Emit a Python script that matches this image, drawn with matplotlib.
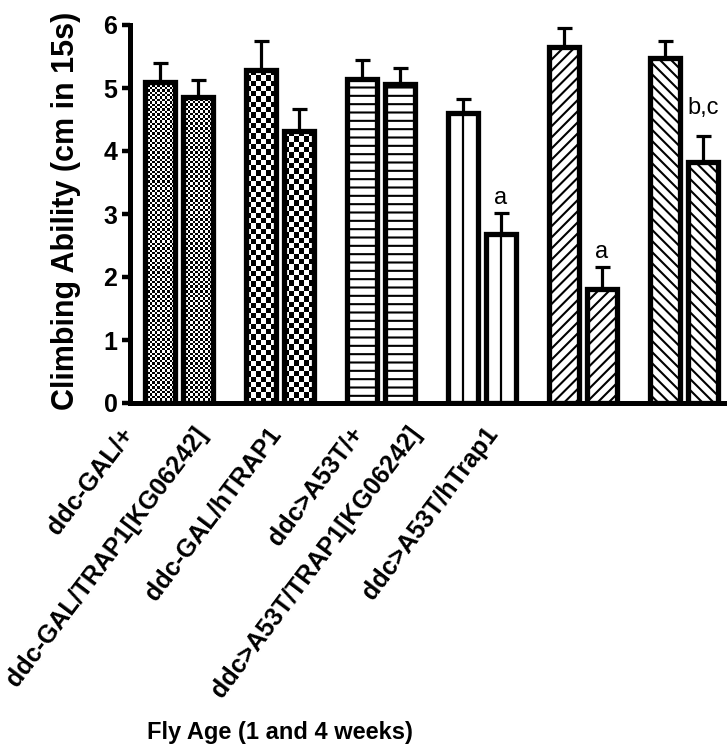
import matplotlib
matplotlib.use("Agg")
import matplotlib.pyplot as plt
import numpy as np

# ---------------- data ----------------
genotypes = ["ddc-GAL/+", "ddc-GAL/TRAP1[KG06242]", "ddc-GAL/hTRAP1",
             "ddc>A53T/+", "ddc>A53T/TRAP1[KG06242]", "ddc>A53T/hTrap1"]
week1 = [5.09, 5.28, 5.15, 4.60, 5.65, 5.47]
week1_err = [0.30, 0.46, 0.29, 0.22, 0.31, 0.28]
week4 = [4.86, 4.31, 5.06, 2.69, 1.81, 3.82]
week4_err = [0.26, 0.35, 0.25, 0.32, 0.35, 0.42]
week4_sig = ["", "", "", "a", "a", "b,c"]
y_ticks = [0, 1, 2, 3, 4, 5, 6]

# ---------------- style ----------------
plt.rcParams["font.family"] = ["Liberation Sans", "DejaVu Sans"]
plt.rcParams["hatch.linewidth"] = 1.5

W, H = 727, 751
fig = plt.figure(figsize=(W / 100, H / 100), dpi=100)
# axes: left spine at x=130px, baseline at y=403px, top (6) at y=25px
xmin, xmax = -0.485, 5.6
px_per_unit = 101.0
ax_left = 130 / W
ax_w = (xmax - xmin) * px_per_unit / W
ax = fig.add_axes([ax_left, (H - 403) / H, ax_w, (403 - 25) / H])
ax.set_xlim(xmin, xmax)
ax.set_ylim(0, 6)

x = np.arange(len(genotypes))
bw = 0.29
off = 0.188
patterns = ["fine", "checker", "--", "vline", "///", "\\\\\\"]

edge_lw = 3.8
for vals, errs, sign in ((week1, week1_err, -1), (week4, week4_err, 1)):
    pos = x + sign * off
    fills = ax.bar(pos, vals, bw, color="white", edgecolor="none", zorder=1)
    for i, bar in enumerate(fills):
        kind = patterns[i]
        x0, y0 = bar.get_x(), bar.get_y()
        w, h = bar.get_width(), bar.get_height()
        if kind in ("fine", "checker"):
            cell = 2.4 if kind == "fine" else 5.3
            p0 = ax.transData.transform((x0, y0))
            p1 = ax.transData.transform((x0 + w, y0 + h))
            nc = max(1, int(round((p1[0] - p0[0]) / cell)))
            nr = max(1, int(round((p1[1] - p0[1]) / cell)))
            arr = np.add.outer(np.arange(nr), np.arange(nc)) % 2
            im = ax.imshow(arr, cmap="Greys", vmin=0, vmax=1, origin="lower",
                           extent=(x0, x0 + w, y0, y0 + h), aspect="auto",
                           interpolation="nearest", zorder=2)
            im.set_clip_path(bar)
        elif kind == "vline":
            ax.vlines(x0 + w / 2, y0, y0 + h, color="black", lw=1.6, zorder=2)
    outlines = ax.bar(pos, vals, bw, fill=False, edgecolor="black",
                      linewidth=edge_lw, zorder=3)
    for i, bar in enumerate(outlines):
        if patterns[i] not in ("fine", "checker", "vline"):
            bar.set_hatch(patterns[i])
    ax.errorbar(pos, vals, yerr=[np.zeros(len(vals)), errs], fmt="none",
                ecolor="black", elinewidth=2.3, capsize=5.4, capthick=2.3,
                zorder=4)

week4_pos = x + off
for i, s in enumerate(week4_sig):
    if s:
        dy = 12 if "," in s else 3
        ax.annotate(s, (week4_pos[i], week4[i] + week4_err[i]),
                    xytext=(0, dy), textcoords="offset points",
                    ha="center", va="bottom", fontsize=17, zorder=5)

ax.set_xlim(xmin, xmax)
ax.set_ylim(0, 6)

# spines / ticks
for side in ("top", "right"):
    ax.spines[side].set_visible(False)
for side in ("left", "bottom"):
    ax.spines[side].set_linewidth(3.6)
ax.set_yticks(y_ticks)
ax.set_yticklabels([str(t) for t in y_ticks], fontsize=18, fontweight="bold")
ax.tick_params(axis="y", length=6, width=3.2, pad=3)

# x tick labels (placed where the reference shows them)
label_end_px = [138, 212, 286, 368, 426, 503]
label_ticks = [xmin + (p - 130) / px_per_unit for p in label_end_px]
ax.set_xticks(label_ticks)
ax.set_xticklabels(genotypes, rotation=53, ha="right", va="top",
                   fontsize=18, fontweight="bold")
ax.tick_params(axis="x", length=0, pad=14)

fig.text(66 / W, 1 - 211 / H, "Climbing Ability (cm in 15s)", rotation=90,
         ha="center", va="center", fontsize=22, fontweight="bold")
fig.text(280 / W, 1 - 733 / H, "Fly Age (1 and 4 weeks)",
         ha="center", va="center", fontsize=17, fontweight="bold")

fig.savefig("out.png", dpi=100)
